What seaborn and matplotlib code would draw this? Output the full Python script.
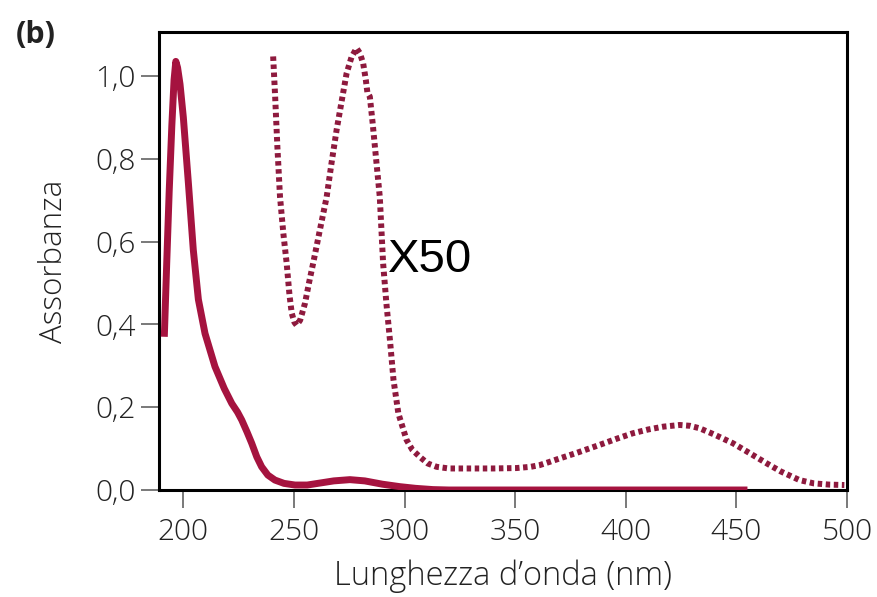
import matplotlib
matplotlib.use("Agg")
import matplotlib.pyplot as plt
import seaborn as sns
import pandas as pd

# Solid spectrum
wl_solid = [191.4, 192.5, 193.6, 194.8, 195.8, 196.6, 197.4, 198.5, 200.0, 202.3, 204.5,
            206.8, 209.8, 214.3, 218.5, 221.9, 224.5, 226.4, 228.8, 230.9, 233.2, 235.4,
            238.2, 241.4, 245.5, 250.5, 256.0, 262.0, 268.0, 275.3, 282.0, 290.0, 298.0,
            305.0, 312.8, 320.0, 455.0]
abs_solid = [0.37, 0.55, 0.72, 0.88, 0.99, 1.035, 1.02, 0.98, 0.90, 0.74, 0.58,
             0.46, 0.378, 0.298, 0.245, 0.209, 0.188, 0.169, 0.14, 0.113, 0.08, 0.056,
             0.036, 0.024, 0.016, 0.012, 0.012, 0.017, 0.022, 0.025, 0.022, 0.014, 0.008,
             0.004, 0.001, 0.0, 0.0]

# Dotted spectrum (x50)
wl_dot = [240.6, 241.5, 242.5, 243.7, 245.2, 246.7, 248.0, 249.0, 250.2, 251.2, 252.8,
          255.0, 256.8, 258.7, 261.8, 264.8, 267.0, 269.3, 271.6, 273.8, 276.0, 278.3,
          279.8, 281.3, 282.5, 283.2, 284.3, 285.5, 286.6, 288.8, 290.3, 291.8, 293.4,
          295.0, 297.2, 300.9, 303.5, 306.9, 310.5, 314.5, 320.0, 330.0, 340.0, 350.6,
          357.0, 361.0, 365.6, 370.0, 378.0, 388.2, 396.0, 403.2, 410.0, 417.0, 424.4,
          429.0, 433.4, 440.0, 448.4, 456.0, 463.5, 470.0, 478.5, 485.0, 492.0, 498.8]
abs_dot = [1.047, 0.95, 0.83, 0.708, 0.62, 0.548, 0.47, 0.427, 0.405, 0.398, 0.41,
           0.451, 0.50, 0.548, 0.63, 0.708, 0.79, 0.87, 0.94, 1.006, 1.045, 1.067,
           1.055, 1.03, 0.99, 0.96, 0.95, 0.89, 0.829, 0.708, 0.548, 0.45, 0.362,
           0.266, 0.185, 0.121, 0.097, 0.080, 0.064, 0.056, 0.052, 0.052, 0.052, 0.053,
           0.056, 0.060, 0.068, 0.076, 0.09, 0.109, 0.124, 0.137, 0.146, 0.153, 0.157,
           0.155, 0.149, 0.134, 0.113, 0.089, 0.065, 0.045, 0.024, 0.016, 0.013, 0.012]

x_ticks = [200, 250, 300, 350, 400, 450, 500]
y_ticks = [0.0, 0.2, 0.4, 0.6, 0.8, 1.0]
y_tick_labels = ["0,0", "0,2", "0,4", "0,6", "0,8", "1,0"]

sns.set_style("ticks")
plt.rcParams["font.family"] = ["Open Sans", "DejaVu Sans"]

fig = plt.figure(figsize=(8.77, 5.97), dpi=100)
ax = fig.add_axes([159 / 877, 1 - 490 / 597, (847 - 159) / 877, (490 - 32) / 597])

df_s = pd.DataFrame({"wl": wl_solid, "a": abs_solid})
df_d = pd.DataFrame({"wl": wl_dot, "a": abs_dot})

sns.lineplot(data=df_s, x="wl", y="a", ax=ax, color="#a5133f", linewidth=5.0,
             sort=False, estimator=None, solid_joinstyle="round", solid_capstyle="butt",
             zorder=3)
sns.lineplot(data=df_d, x="wl", y="a", ax=ax, color="#8e1a3e", linewidth=4.3,
             sort=False, estimator=None, dashes=False, zorder=3)
ax.lines[-1].set_linestyle((0, (0.75, 0.6)))
ax.lines[-1].set_dash_capstyle("butt")

ax.set_xlim(189, 500)
ax.set_ylim(0, 1.106)
ax.set_xticks(x_ticks)
ax.set_xticklabels([str(t) for t in x_ticks])
ax.set_yticks(y_ticks)
ax.set_yticklabels(y_tick_labels)

for s in ax.spines.values():
    s.set_visible(True)
    s.set_linewidth(2.2)
    s.set_color("black")

ax.tick_params(axis="both", which="major", length=13, width=1.1, color="#555555",
               labelsize=21.5, labelcolor="#222222", direction="out")
ax.tick_params(axis="x", pad=7)
ax.tick_params(axis="y", pad=4)
for lab in ax.get_xticklabels() + ax.get_yticklabels():
    lab.set_fontweight("light")

ax.set_xlabel("Lunghezza d\u2019onda (nm)", fontsize=23.5, color="#222222",
              labelpad=9, fontweight="light")
ax.set_ylabel("Assorbanza", fontsize=22.5, color="#222222", labelpad=18,
              fontweight="light")

ax.text(292.5, 0.527, "X50", fontsize=34, family=["Liberation Sans", "DejaVu Sans"],
        color="black", ha="left", va="baseline", zorder=4)

fig.text(16 / 877, 1 - 43 / 597, "(b)", fontsize=22, fontweight="bold",
         color="#222222", ha="left", va="baseline")

fig.savefig("out.png", dpi=100)
